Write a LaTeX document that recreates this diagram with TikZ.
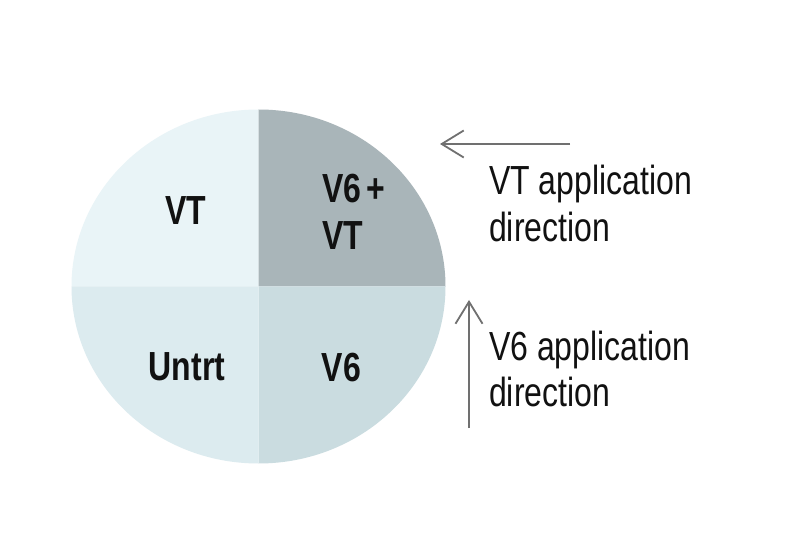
\documentclass[tikz,border=0pt]{standalone}
\usepackage{fontspec}
\setmainfont{Liberation Sans}
\usetikzlibrary{arrows.meta}
\definecolor{qtl}{HTML}{E9F4F7}
\definecolor{qtr}{HTML}{A9B5B9}
\definecolor{qbl}{HTML}{DCEBEF}
\definecolor{qbr}{HTML}{CADCE0}
\definecolor{arrowgray}{HTML}{707070}
\definecolor{txt}{HTML}{111111}
\newcommand{\tallbox}[1]{\scalebox{1}[1.27]{#1}}
\tikzset{
  quadlabel/.style={inner sep=0pt, text=txt, font=\fontsize{32}{37}\selectfont\bfseries},
  sidelabel/.style={inner sep=0pt, text=txt, font=\fontsize{32}{36.5}\selectfont},
  apparrow/.style={draw=arrowgray, line width=1.8pt, -{Straight Barb[length=22pt,width=27pt,line width=1.8pt]}}
}
\begin{document}
\begin{tikzpicture}[x=1pt,y=1pt]
\useasboundingbox (0,0) rectangle (800,544);
\fill[white] (0,0) rectangle (800,544);
\coordinate (c) at (258.5,257.5);
\def\rx{187}\def\ry{177}
% quadrants
\fill[qtl] (c) -- ++(-\rx,0) arc[start angle=180,end angle=90,x radius=\rx,y radius=\ry] -- cycle;
\fill[qtr] (c) -- ++(0,\ry) arc[start angle=90,end angle=0,x radius=\rx,y radius=\ry] -- cycle;
\fill[qbr] (c) -- ++(\rx,0) arc[start angle=0,end angle=-90,x radius=\rx,y radius=\ry] -- cycle;
\fill[qbl] (c) -- ++(0,-\ry) arc[start angle=270,end angle=180,x radius=\rx,y radius=\ry] -- cycle;
% quadrant labels
\node[quadlabel, anchor=base] (vt) at (185.5,319) {\tallbox{VT}};
\node[quadlabel, anchor=base west] (v6vt) at (322,341) {\tallbox{\begin{tabular}[t]{@{}l@{}}V6\hspace{0.15em}+\\VT\end{tabular}}};
\node[quadlabel, anchor=base] (untrt) at (187,164) {\tallbox{Untrt}};
\node[quadlabel, anchor=base] (v6) at (341.5,163) {\tallbox{V6}};
% side labels
\node[sidelabel, anchor=base west] (vtdir) at (489,349) {\tallbox{\begin{tabular}[t]{@{}l@{}}VT application\\direction\end{tabular}}};
\node[sidelabel, anchor=base west] (v6dir) at (489,184) {\tallbox{\begin{tabular}[t]{@{}l@{}}V6 application\\direction\end{tabular}}};
% arrows
\coordinate (hstart) at (570,400);
\coordinate (hend) at (440,400);
\coordinate (vstart) at (469,116);
\coordinate (vend) at (469,244);
\draw[apparrow] (hstart) -- (hend);
\draw[apparrow] (vstart) -- (vend);
\end{tikzpicture}
\end{document}
